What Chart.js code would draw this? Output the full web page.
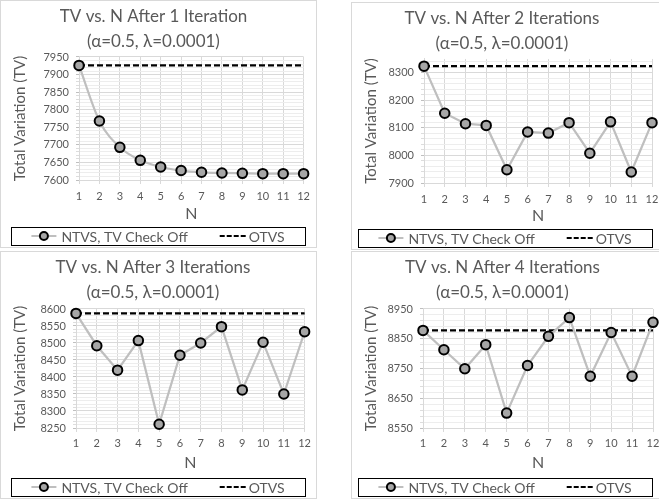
<!DOCTYPE html>
<html>
<head>
<meta charset="utf-8">
<script src="https://cdn.jsdelivr.net/npm/chart.js@4"></script>
<style>
  html, body { margin: 0; padding: 0; background: #fff; overflow: hidden; width: 659px; height: 500px; }
  .panel { position: absolute; width: 315px; height: 246px; border: 1px solid #d9d9d9; background: #fff; overflow: hidden; }
  .panel canvas { display: block; }
</style>
</head>
<body>
<div class="panel" style="left:0;top:0"><canvas id="c1" width="315" height="246"></canvas></div>
<div class="panel" style="left:351px;top:2px"><canvas id="c2" width="315" height="246"></canvas></div>
<div class="panel" style="left:0;top:251px"><canvas id="c3" width="315" height="246"></canvas></div>
<div class="panel" style="left:351px;top:251px"><canvas id="c4" width="315" height="246"></canvas></div>
<script>
// data
const nLabels = ['1', '2', '3', '4', '5', '6', '7', '8', '9', '10', '11', '12'];

const tvIter1 = [7926, 7768, 7693, 7656, 7637, 7627, 7622, 7620, 7619, 7618, 7618, 7618];
const otvsIter1 = [7926, 7926, 7926, 7926, 7926, 7926, 7926, 7926, 7926, 7926, 7926, 7926];

const tvIter2 = [8324, 8153, 8115, 8109, 7948, 8085, 8081, 8119, 8008, 8122, 7940, 8119];
const otvsIter2 = [8324, 8324, 8324, 8324, 8324, 8324, 8324, 8324, 8324, 8324, 8324, 8324];

const tvIter3 = [8587, 8492, 8420, 8507, 8261, 8464, 8500, 8548, 8362, 8502, 8350, 8533];
const otvsIter3 = [8587, 8587, 8587, 8587, 8587, 8587, 8587, 8587, 8587, 8587, 8587, 8587];

const tvIter4 = [8878, 8813, 8749, 8830, 8600, 8760, 8858, 8921, 8724, 8871, 8724, 8905];
const otvsIter4 = [8878, 8878, 8878, 8878, 8878, 8878, 8878, 8878, 8878, 8878, 8878, 8878];

const chartTitles = ['TV vs. N After 1 Iteration', 'TV vs. N After 2 Iterations',
                     'TV vs. N After 3 Iterations', 'TV vs. N After 4 Iterations'];
const subTitle = '(\u03B1=0.5, \u03BB=0.0001)';
const seriesNames = ['NTVS, TV Check Off', 'OTVS'];

const yMins = [7600, 7900, 8250, 8550];
const yMaxs = [7950, 8350, 8600, 8950];
const majorSteps = [50, 100, 50, 100];
const minorSteps = [10, 20, 10, 20];

const tvSeries = [tvIter1, tvIter2, tvIter3, tvIter4];
const otvsSeries = [otvsIter1, otvsIter2, otvsIter3, otvsIter4];

// per panel layout (canvas pixels)
const panels = [
  { id: 'c1', left: 78, right: 305, top: 56, bottom: 179, tickPad: 6, nPad: 4, boxLeft: 10, smooth: true },
  { id: 'c2', left: 72, right: 300, top: 56, bottom: 180, tickPad: 6, nPad: 4, boxLeft: 6, smooth: false },
  { id: 'c3', left: 75, right: 304, top: 57, bottom: 176, tickPad: 5, nPad: 6, boxLeft: 10, smooth: false },
  { id: 'c4', left: 71, right: 301, top: 57, bottom: 176, tickPad: 5, nPad: 6, boxLeft: 6, smooth: false },
];

const TEXT = '#595959';
const FONT = "Lato, 'Open Sans', sans-serif";
Chart.defaults.font.family = FONT;
Chart.defaults.color = TEXT;

const LEGEND_TOP = 226;
const LEGEND_H = 18;
const LEGEND_W = 294;

// excel style boxed legend drawn under the axis
const boxedLegend = {
  id: 'boxedLegend',
  afterDraw(chart, args, opts) {
    const ctx = chart.ctx;
    const ds = chart.data.datasets;
    const x0 = opts.boxLeft;
    const yc = LEGEND_TOP + LEGEND_H / 2;
    ctx.save();
    ctx.strokeStyle = '#000';
    ctx.lineWidth = 1;
    ctx.strokeRect(x0 + 0.5, LEGEND_TOP + 0.5, LEGEND_W, LEGEND_H);

    ctx.font = '14px ' + FONT;
    ctx.textBaseline = 'middle';
    ctx.textAlign = 'left';
    const w1 = ctx.measureText(ds[0].label).width;
    const w2 = ctx.measureText(ds[1].label).width;
    const total = 25 + 5 + w1 + 32 + 27 + 2 + w2;
    let x = x0 + (LEGEND_W - total) / 2;

    // line with marker
    ctx.strokeStyle = ds[0].borderColor;
    ctx.lineWidth = 2;
    ctx.beginPath(); ctx.moveTo(x, yc); ctx.lineTo(x + 25, yc); ctx.stroke();
    ctx.beginPath(); ctx.arc(x + 12.5, yc, 4, 0, Math.PI * 2);
    ctx.fillStyle = ds[0].pointBackgroundColor; ctx.fill();
    ctx.strokeStyle = ds[0].pointBorderColor; ctx.lineWidth = 2; ctx.stroke();
    x += 30;
    ctx.fillStyle = TEXT;
    ctx.fillText(ds[0].label, x, yc + 1);
    x += w1 + 32;

    // dashed
    ctx.strokeStyle = ds[1].borderColor;
    ctx.lineWidth = 2;
    ctx.setLineDash([5, 2]);
    ctx.beginPath(); ctx.moveTo(x, yc); ctx.lineTo(x + 27, yc); ctx.stroke();
    ctx.setLineDash([]);
    x += 29;
    ctx.fillText(ds[1].label, x, yc + 1);
    ctx.restore();
  }
};

panels.forEach((p, i) => {
  const major = majorSteps[i];
  const yMin = yMins[i];
  const isMajor = (v) => {
    const r = Math.abs((v - yMin) % major);
    return r < 1e-6 || major - r < 1e-6;
  };

  new Chart(document.getElementById(p.id).getContext('2d'), {
    type: 'line',
    data: {
      labels: nLabels,
      datasets: [
        {
          label: seriesNames[0],
          data: tvSeries[i],
          borderColor: '#bfbfbf',
          borderWidth: 2.25,
          pointRadius: 4.75,
          pointBorderWidth: 2,
          pointBackgroundColor: '#a6a6a6',
          pointBorderColor: '#000000',
          tension: p.smooth ? 0.4 : 0,
          cubicInterpolationMode: p.smooth ? 'monotone' : 'default',
          clip: false,
          order: 0,
        },
        {
          label: seriesNames[1],
          data: otvsSeries[i],
          borderColor: '#000000',
          borderWidth: 2.25,
          borderDash: [6, 3],
          pointRadius: 0,
          clip: false,
          order: 1,
        },
      ],
    },
    options: {
      responsive: false,
      animation: false,
      events: [],
      layout: { padding: { left: 0, right: 315 - p.right, top: 0, bottom: 246 - LEGEND_TOP } },
      plugins: {
        legend: { display: false },
        tooltip: { enabled: false },
        title: {
          display: true,
          text: [chartTitles[i], subTitle],
          color: TEXT,
          font: { size: 17, weight: 'normal', lineHeight: 1.47 },
          padding: { top: 3, bottom: p.top - 53 },
        },
        boxedLegend: { boxLeft: p.boxLeft },
      },
      scales: {
        x: {
          offset: false,
          afterFit: (s) => { s.height = LEGEND_TOP - p.bottom; },
          border: { color: '#d9d9d9', width: 1 },
          grid: { color: '#d9d9d9', tickColor: '#d9d9d9', tickLength: 4 },
          ticks: { color: TEXT, font: { size: 11 }, padding: p.tickPad, autoSkip: false, maxRotation: 0 },
          title: { display: true, text: 'N', color: TEXT, font: { size: 16 }, padding: { top: 0, bottom: p.nPad } },
        },
        y: {
          min: yMin,
          max: yMaxs[i],
          afterFit: (s) => { s.width = p.left; },
          border: { color: '#d9d9d9', width: 1 },
          grid: {
            color: (c) => (c.tick && isMajor(c.tick.value)) ? '#d9d9d9' : '#ededed',
            tickColor: (c) => (c.tick && isMajor(c.tick.value)) ? '#bfbfbf' : '#dddddd',
            tickLength: 3,
          },
          ticks: {
            stepSize: minorSteps[i],
            maxTicksLimit: 100,
            includeBounds: false,
            autoSkip: false,
            padding: 7,
            color: TEXT,
            font: { size: 11 },
            callback: (v) => isMajor(v) ? String(v) : '',
          },
          title: { display: true, text: 'Total Variation (TV)', color: TEXT, font: { size: 15 }, padding: { top: 10, bottom: 0 } },
        },
      },
    },
    plugins: [boxedLegend],
  });
});
</script>
</body>
</html>
